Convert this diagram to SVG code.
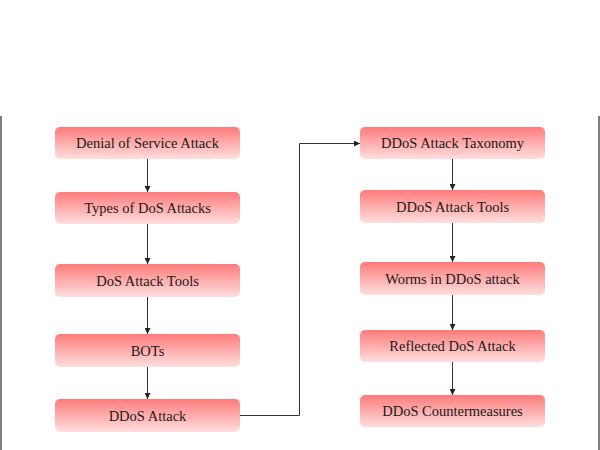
<svg xmlns="http://www.w3.org/2000/svg" width="600" height="450" viewBox="0 0 600 450">
<defs>
<linearGradient id="g" x1="0" y1="0" x2="0" y2="1">
<stop offset="0" stop-color="#ff7b7b"/>
<stop offset="1" stop-color="#ffdede"/>
</linearGradient>
<marker id="ah" markerWidth="6" markerHeight="6" refX="6" refY="3" orient="auto" markerUnits="userSpaceOnUse">
<path d="M0,0 L6,3 L0,6 z" fill="#222"/>
</marker>
<style>
.box{fill:url(#g);}
.t{font-family:"Liberation Serif","Times New Roman",serif;font-size:14.5px;fill:#1a1a1a;text-anchor:middle;}
.c{fill:none;stroke:#333;stroke-width:1;marker-end:url(#ah);}
.b{stroke:#555;stroke-width:1.5;}
</style>
</defs>
<rect width="600" height="450" fill="#fff"/>
<line class="b" x1="1" y1="116" x2="1" y2="450"/>
<line class="b" x1="599" y1="116" x2="599" y2="450"/>
<g id="n1"><rect class="box" x="55" y="127" width="185" height="32" rx="5"/><text class="t" x="147.5" y="148">Denial of Service Attack</text></g>
<g id="n2"><rect class="box" x="55" y="192" width="185" height="32" rx="5"/><text class="t" x="147.5" y="213">Types of DoS Attacks</text></g>
<g id="n3"><rect class="box" x="55" y="264" width="185" height="33" rx="5"/><text class="t" x="147.5" y="285.5">DoS Attack Tools</text></g>
<g id="n4"><rect class="box" x="55" y="334" width="185" height="33" rx="5"/><text class="t" x="147.5" y="355.5">BOTs</text></g>
<g id="n5"><rect class="box" x="55" y="399" width="185" height="33" rx="5"/><text class="t" x="147.5" y="420.5">DDoS Attack</text></g>
<g id="n6"><rect class="box" x="360" y="127" width="185" height="32" rx="5"/><text class="t" x="452.5" y="148">DDoS Attack Taxonomy</text></g>
<g id="n7"><rect class="box" x="360" y="190" width="185" height="33" rx="5"/><text class="t" x="452.5" y="211.5">DDoS Attack Tools</text></g>
<g id="n8"><rect class="box" x="360" y="262" width="185" height="33" rx="5"/><text class="t" x="452.5" y="283.5">Worms in DDoS attack</text></g>
<g id="n9"><rect class="box" x="360" y="330" width="185" height="32" rx="5"/><text class="t" x="452.5" y="351">Reflected DoS Attack</text></g>
<g id="n10"><rect class="box" x="360" y="395" width="185" height="32" rx="5"/><text class="t" x="452.5" y="416">DDoS Countermeasures</text></g>
<g id="connectors">
<path class="c" d="M147.5,159 V192"/>
<path class="c" d="M147.5,224 V264"/>
<path class="c" d="M147.5,297 V334"/>
<path class="c" d="M147.5,367 V399"/>
<path class="c" d="M240,415.5 H299.5 V143.5 H360"/>
<path class="c" d="M452.5,159 V190"/>
<path class="c" d="M452.5,223 V262"/>
<path class="c" d="M452.5,295 V330"/>
<path class="c" d="M452.5,362 V395"/>
</g>
</svg>
